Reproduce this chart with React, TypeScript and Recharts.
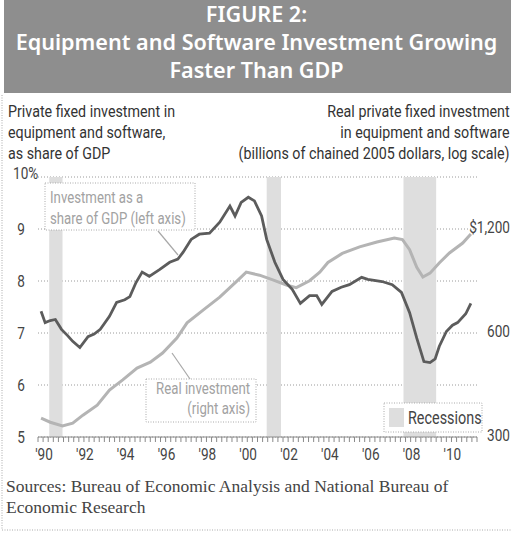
import React from 'react';
import { LineChart, Line, XAxis, YAxis, CartesianGrid, ReferenceArea } from 'recharts';

// investment in equipment & software as % of GDP (left axis)
const shareOfGdp: [number, number][] = [
  [1990.15, 7.42], [1990.35, 7.2], [1990.6, 7.24], [1990.85, 7.26], [1991.15, 7.07],
  [1991.45, 6.95], [1991.7, 6.84], [1992.05, 6.72], [1992.45, 6.93], [1992.75, 6.98],
  [1993.05, 7.07], [1993.5, 7.32], [1993.85, 7.59], [1994.25, 7.64], [1994.5, 7.7],
  [1994.8, 7.97], [1995.1, 8.17], [1995.45, 8.09], [1995.95, 8.22], [1996.45, 8.36],
  [1996.85, 8.42], [1997.1, 8.55], [1997.5, 8.8], [1997.9, 8.9], [1998.4, 8.92],
  [1998.9, 9.13], [1999.4, 9.44], [1999.65, 9.25], [1999.95, 9.51], [2000.3, 9.61],
  [2000.6, 9.54], [2000.95, 9.25], [2001.2, 8.8], [2001.6, 8.36], [2002.0, 8.03],
  [2002.45, 7.84], [2002.85, 7.57], [2003.3, 7.72], [2003.65, 7.72], [2003.9, 7.55],
  [2004.4, 7.8], [2004.85, 7.88], [2005.25, 7.93], [2005.85, 8.07], [2006.15, 8.03],
  [2006.85, 7.99], [2007.35, 7.93], [2007.8, 7.78], [2008.2, 7.39], [2008.55, 6.9],
  [2008.9, 6.45], [2009.2, 6.43], [2009.45, 6.5], [2009.65, 6.74], [2010.0, 7.03],
  [2010.3, 7.15], [2010.55, 7.2], [2010.95, 7.37], [2011.2, 7.57],
];

// real investment, billions of chained 2005 dollars (right axis, log)
const realInvestment: [number, number][] = [
  [1990.15, 340], [1990.6, 331], [1991.2, 323], [1991.7, 329], [1992.2, 347],
  [1992.9, 371], [1993.5, 410], [1994.15, 439], [1994.85, 475], [1995.5, 494],
  [1996.1, 525], [1996.8, 580], [1997.3, 642], [1998.1, 700], [1998.9, 762],
  [1999.7, 844], [2000.2, 900], [2000.85, 882], [2001.5, 855], [2002.2, 825],
  [2002.65, 812], [2003.3, 850], [2003.8, 900], [2004.2, 960], [2004.9, 1020],
  [2005.75, 1065], [2006.6, 1100], [2007.45, 1130], [2007.85, 1118], [2008.2, 1045],
  [2008.55, 930], [2008.85, 871], [2009.2, 894], [2009.65, 957], [2010.15, 1023],
  [2010.8, 1093], [2011.2, 1160],
];

const recessions: [number, number][] = [[1990.55, 1991.2], [2001.2, 2001.9], [2007.9, 2009.5]];
const leftTicks = [5, 6, 7, 8, 9, 10];
const rightTicks = [300, 600, 1200];
const labelYears = [1990, 1992, 1994, 1996, 1998, 2000, 2002, 2004, 2006, 2008, 2010];

const quarterTicks: number[] = [];
for (let q = 0; q <= 86; q++) quarterTicks.push(1990 + q / 4);

const years = Array.from(new Set([...shareOfGdp.map(d => d[0]), ...realInvestment.map(d => d[0])])).sort((a, b) => a - b);
const data = years.map(year => ({
  year,
  share: shareOfGdp.find(d => d[0] === year)?.[1],
  real: realInvestment.find(d => d[0] === year)?.[1],
}));

const SANS = "Roboto, 'Noto Sans', sans-serif";
const SQUEEZE = 0.8;

// condensed svg text (the original uses a condensed face we don't have)
const CText = ({ x, y, size = 17, fill = '#444', anchor = 'start', sx = SQUEEZE, children }: any) => (
  <text transform={`translate(${x},${y}) scale(${sx},1)`} textAnchor={anchor} fontFamily={SANS} fontSize={size} fill={fill}>
    {children}
  </text>
);

const YearTick = ({ x, y, payload }: any) => {
  const v = payload.value;
  if (!labelYears.includes(v)) return <g />;
  return <CText x={x + 6} y={y + 16} anchor="middle">{"'" + String(v).slice(2)}</CText>;
};

const LeftTick = ({ y, payload }: any) => {
  const v = payload.value;
  if (v === 10) return <CText x={13} y={y + 2}>10%</CText>;
  return <CText x={21} y={y + 6} anchor="middle">{v}</CText>;
};

const RightTick = ({ y, payload }: any) => {
  const v = payload.value;
  const label = v === 1200 ? '$1,200' : String(v);
  return <CText x={510} y={y + 4} anchor="end">{label}</CText>;
};

const condDiv = (align: 'left' | 'right'): React.CSSProperties => ({
  position: 'absolute', top: 101, fontFamily: SANS, fontSize: 17, lineHeight: '21px', color: '#333',
  whiteSpace: 'nowrap', textAlign: align, transform: 'scaleX(0.84)', transformOrigin: align,
});

export default function App() {
  return (
    <div style={{ position: 'relative', width: 511, height: 533, overflow: 'hidden', background: '#fff' }}>
      <style>{'body{margin:0}'}</style>
      {/* title band */}
      <div style={{ position: 'absolute', left: 4, top: 0, width: 507, height: 93, background: '#8e8e8e' }} />
      <div style={{ position: 'absolute', left: 4, width: 505, top: 0, textAlign: 'center', color: '#fff', fontFamily: "'Noto Sans', sans-serif", fontWeight: 600, fontSize: 21.6, lineHeight: '28px', whiteSpace: 'nowrap' }}>
        <div>FIGURE 2:</div>
        <div>Equipment and Software Investment Growing</div>
        <div>Faster Than GDP</div>
      </div>
      {/* axis titles */}
      <div style={{ ...condDiv('left'), left: 8 }}>
        <div>Private fixed investment in</div>
        <div>equipment and software,</div>
        <div>as share of GDP</div>
      </div>
      <div style={{ ...condDiv('right'), right: 1 }}>
        <div>Real private fixed investment</div>
        <div>in equipment and software</div>
        <div>(billions of chained 2005 dollars, log scale)</div>
      </div>

      <div style={{ position: 'absolute', left: 0, top: 0 }}>
        <LineChart width={540} height={480} data={data} margin={{ top: 177, right: 0, bottom: 0, left: 0 }}>
          <CartesianGrid yAxisId="left" vertical={false} stroke="#9a9a9a" strokeDasharray="1 2" />
          {recessions.map(([a, b]) => (
            <ReferenceArea key={a} x1={a} x2={b} y1={5} y2={10} yAxisId="left" fill="#dedede" fillOpacity={1} stroke="none" />
          ))}
          <XAxis type="number" dataKey="year" domain={[1990, 2011.5]} ticks={quarterTicks} interval={0}
            allowDataOverflow tickSize={5} height={43} tickLine={{ stroke: '#8a8a8a' }} axisLine={{ stroke: '#8a8a8a' }} tick={<YearTick />} />
          <YAxis yAxisId="left" domain={[5, 10]} ticks={leftTicks} width={38} axisLine={false} tickLine={false} tick={<LeftTick />} />
          <YAxis yAxisId="right" orientation="right" scale="log" domain={[300, 1697]} ticks={rightTicks} width={63}
            axisLine={false} tickLine={false} tick={<RightTick />} allowDataOverflow />
          <Line yAxisId="right" dataKey="real" type="linear" stroke="#b4b4b4" strokeWidth={3} dot={false} connectNulls isAnimationActive={false} />
          <Line yAxisId="left" dataKey="share" type="linear" stroke="#5c5c5c" strokeWidth={2.8} dot={false} connectNulls isAnimationActive={false} />
        </LineChart>
      </div>

      {/* annotations */}
      <svg width={511} height={533} style={{ position: 'absolute', left: 0, top: 0, pointerEvents: 'none' }}>
        <line x1={158} y1={231} x2={178} y2={255} stroke="#a8a8a8" strokeWidth={1.2} />
        <rect x={45} y={183} width={150} height={47} fill="#fff" stroke="#aaa" strokeDasharray="1 1.5" />
        <CText x={50} y={203} size={16.5} fill="#a2a2a2">Investment as a</CText>
        <CText x={50} y={224} size={16.5} fill="#a2a2a2">share of GDP (left axis)</CText>

        <line x1={172} y1={353} x2={190} y2={379} stroke="#a8a8a8" strokeWidth={1.2} />
        <rect x={146} y={379} width={110} height={43} fill="#fff" stroke="#aaa" strokeDasharray="1 1.5" />
        <CText x={250} y={394} size={16.5} anchor="end" fill="#a2a2a2">Real investment</CText>
        <CText x={250} y={414} size={16.5} anchor="end" fill="#a2a2a2">(right axis)</CText>

        <rect x={384} y={403} width={98} height={29} fill="#fff" stroke="#aaa" strokeDasharray="1 1.5" />
        <rect x={389} y={408} width={15} height={19} fill="#dedede" />
        <CText x={408} y={424} size={18}>Recessions</CText>

        <text x={6} y={492} fontFamily="'Liberation Serif', serif" fontSize={17.5} fill="#444">Sources: Bureau of Economic Analysis and National Bureau of</text>
        <text x={6} y={513} fontFamily="'Liberation Serif', serif" fontSize={17.5} fill="#444">Economic Research</text>

        <line x1={2} y1={95} x2={2} y2={530} stroke="#aaa" strokeDasharray="1 1.5" />
        <line x1={2} y1={530} x2={511} y2={530} stroke="#aaa" strokeDasharray="1 1.5" />
      </svg>
    </div>
  );
}
